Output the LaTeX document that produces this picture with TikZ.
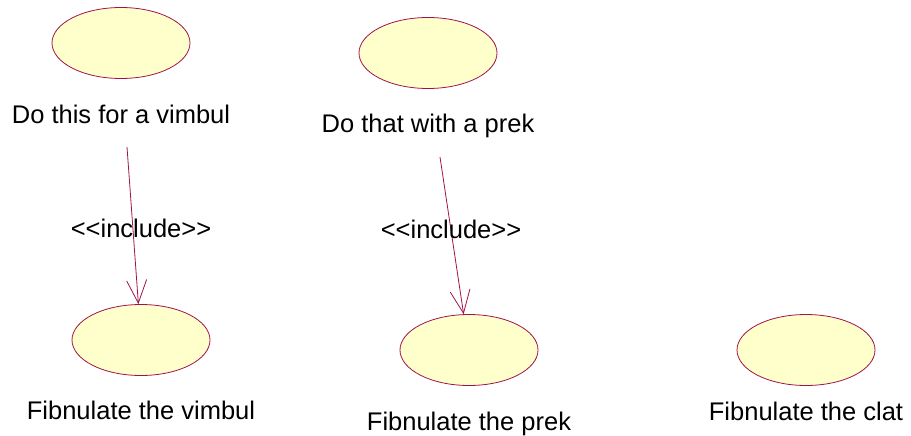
\documentclass[tikz,border=0pt]{standalone}
\usepackage{fontspec}
\setmainfont{Liberation Sans}
\usetikzlibrary{shapes.geometric,arrows.meta}
\definecolor{ucline}{HTML}{A0134A}
\definecolor{ucfill}{HTML}{FFFFCC}
\tikzset{
  usecase/.style={ellipse,draw=ucline,fill=ucfill,line width=0.8pt,minimum width=138pt,minimum height=71pt,inner sep=0pt},
  lbl/.style={anchor=base,inner sep=0pt,font=\fontsize{25.5pt}{30pt}\selectfont},
  incl/.style={draw=ucline,line width=0.8pt,-{Straight Barb[length=23pt,width=20pt,line width=0.8pt]}},
}
\begin{document}
\begin{tikzpicture}[x=1pt,y=-1pt]
\useasboundingbox (0,0) rectangle (911,436);
% use cases
\node[usecase] (u1) at (121,43) {};
\node[usecase] (u2) at (428,53) {};
\node[usecase] (u3) at (141,340) {};
\node[usecase] (u4) at (469,350) {};
\node[usecase] (u5) at (806,350) {};
% labels
\node[lbl] (t1) at (121,123) {Do this for a vimbul};
\node[lbl] (t2) at (428,132) {Do that with a prek};
\node[lbl] (t3) at (141,419) {Fibnulate the vimbul};
\node[lbl] (t4) at (469,430) {Fibnulate the prek};
\node[lbl] (t5) at (806,420) {Fibnulate the clat};
% include relations
\coordinate (s1) at (127,147);
\coordinate (s2) at (440,157);
\draw[incl] (s1) -- (u3);
\draw[incl] (s2) -- (u4);
\node[lbl] (i1) at (141,237) {<{}<include>{}>};
\node[lbl] (i2) at (451,238) {<{}<include>{}>};
\end{tikzpicture}
\end{document}
